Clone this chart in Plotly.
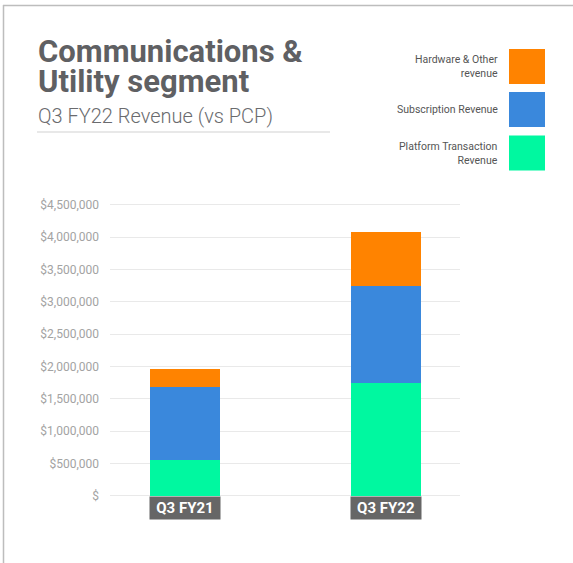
import plotly.graph_objects as go

# ---- data ----
categories = ["Q3 FY21", "Q3 FY22"]
series_names = ["Platform Transaction<br>Revenue", "Subscription Revenue", "Hardware & Other<br>revenue"]
platform_transaction = [553000, 1749000]
subscription = [1134000, 1497000]
hardware_other = [270000, 831000]
series_values = [platform_transaction, subscription, hardware_other]
series_colors = ["#00F8A0", "#3A88DC", "#FF8300"]
tick_values = [0, 500000, 1000000, 1500000, 2000000, 2500000, 3000000, 3500000, 4000000, 4500000]
tick_labels = ["$", "$500,000", "$1,000,000", "$1,500,000", "$2,000,000", "$2,500,000",
               "$3,000,000", "$3,500,000", "$4,000,000", "$4,500,000"]

W, H = 573, 563
def px(x):
    return x / W
def py(y):
    return 1 - y / H

fig = go.Figure()
for name, vals, col in zip(series_names, series_values, series_colors):
    fig.add_trace(go.Bar(x=categories, y=vals, name=name.replace("<br>", " "),
                         marker=dict(color=col, line=dict(width=0)), width=0.35,
                         hoverinfo="skip"))

annotations = []
shapes = []

# category label boxes under bars
for c in categories:
    annotations.append(dict(x=c, y=0, xref="x", yref="y", yanchor="top", xanchor="center",
                            text="<b>" + c + "</b>", showarrow=False,
                            font=dict(family="Roboto", size=15, color="white"),
                            bgcolor="#666666", width=70, height=22, borderpad=0, yshift=0))

# title block
annotations.append(dict(x=px(36), y=py(31), xref="paper", yref="paper", xanchor="left", yanchor="top",
                        text="Communications &", showarrow=False,
                        font=dict(family="Roboto", size=31, color="#5F6063", weight=700)))
annotations.append(dict(x=px(36), y=py(61), xref="paper", yref="paper", xanchor="left", yanchor="top",
                        text="Utility segment", showarrow=False,
                        font=dict(family="Roboto", size=31, color="#5F6063", weight=700)))
annotations.append(dict(x=px(36), y=py(102), xref="paper", yref="paper", xanchor="left", yanchor="top",
                        text="Q3 FY22 Revenue (vs PCP)", showarrow=False,
                        font=dict(family="Roboto", size=20, color="#6A6B6E", weight=300)))
shapes.append(dict(type="line", xref="paper", yref="paper", x0=px(37), x1=px(330), y0=py(132), y1=py(132),
                   line=dict(color="#E8E8E8", width=2)))

# frame lines
shapes.append(dict(type="line", xref="paper", yref="paper", x0=px(3), x1=1, y0=py(5.5), y1=py(5.5),
                   line=dict(color="#BDBDBD", width=1.5)))
shapes.append(dict(type="line", xref="paper", yref="paper", x0=px(3.5), x1=px(3.5), y0=py(5), y1=0,
                   line=dict(color="#BDBDBD", width=1.5)))

# custom legend (text left of swatch), top-down: hardware, subscription, platform
legend_centers = [66.5, 109.5, 153]
for i, idx in enumerate([2, 1, 0]):
    cy = legend_centers[i]
    shapes.append(dict(type="rect", xref="paper", yref="paper", x0=px(509), x1=px(545),
                       y0=py(cy - 17.5), y1=py(cy + 17.5), fillcolor=series_colors[idx],
                       line=dict(width=0)))
    annotations.append(dict(x=px(500), y=py(cy), xref="paper", yref="paper", xanchor="right",
                            yanchor="middle", align="right", text=series_names[idx], showarrow=False,
                            font=dict(family="Roboto", size=10.5, color="#555555")))

fig.update_layout(
    width=W, height=H, margin=dict(l=0, r=0, t=0, b=0),
    paper_bgcolor="white", plot_bgcolor="white",
    barmode="stack", showlegend=False,
    xaxis=dict(domain=[px(110), px(460)], range=[-0.373, 1.368], showticklabels=False,
               showgrid=False, zeroline=False, showline=False, fixedrange=True),
    yaxis=dict(domain=[py(530), py(190)], range=[-531000, 4732000], tickmode="array",
               tickvals=tick_values, ticktext=tick_labels, showgrid=True, gridcolor="#E9E9E9",
               gridwidth=1, zeroline=False, showline=False, ticks="", ticklabelstandoff=10,
               fixedrange=True,
               tickfont=dict(family="Roboto", size=12, color="#A3A3A3")),
    annotations=annotations, shapes=shapes,
)

fig.write_html("out.html", config={"displayModeBar": False, "staticPlot": True},
               post_script="document.body.style.margin='0';document.body.style.overflow='hidden';")
